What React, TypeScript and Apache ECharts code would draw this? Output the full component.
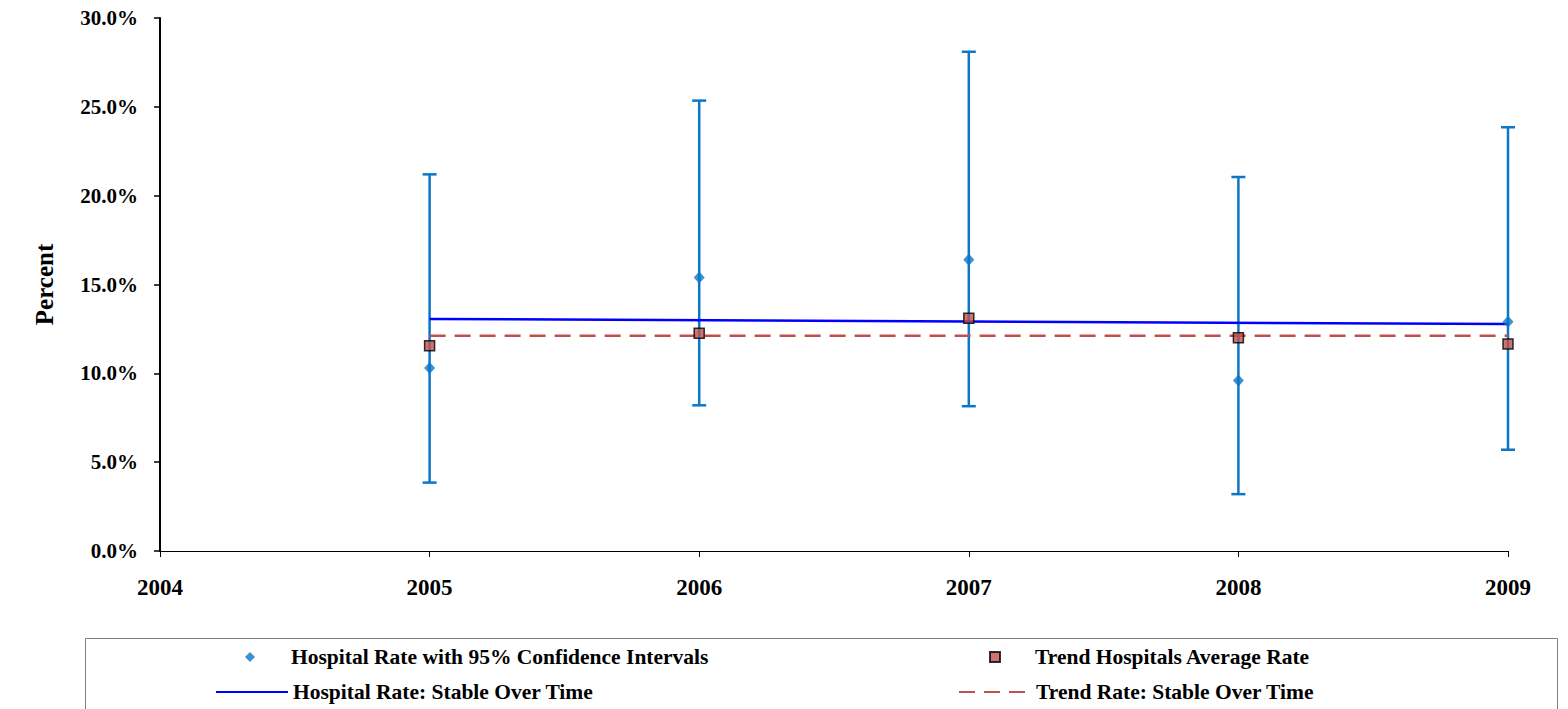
import React, { useEffect, useRef } from "react";
import * as echarts from "echarts";

const years = [2005, 2006, 2007, 2008, 2009];
const hospitalRate = [10.3, 15.4, 16.4, 9.6, 12.9];
const ciLower = [3.85, 8.2, 8.15, 3.2, 5.7];
const ciUpper = [21.2, 25.35, 28.1, 21.05, 23.85];
const trendAvgRate = [11.55, 12.25, 13.1, 12.0, 11.65];
const hospitalTrend = [13.06, 12.77]; // at 2005 and 2009
const trendRate = [12.12, 12.12]; // at 2005 and 2009
const yTicks = [0, 5, 10, 15, 20, 25, 30];
const xTicks = [2004, 2005, 2006, 2007, 2008, 2009];

const NAMES = {
  ci: "Hospital Rate with 95% Confidence Intervals",
  avg: "Trend Hospitals Average Rate",
  hosp: "Hospital Rate: Stable Over Time",
  trend: "Trend Rate: Stable Over Time",
};

const BLUE = "#0B77C6";
const RED = "#C0504D";
const FONT = "'Liberation Serif', 'Times New Roman', serif";

export default function App() {
  const ref = useRef<HTMLDivElement>(null);
  useEffect(() => {
    if (!ref.current) return;
    const chart = echarts.init(ref.current, undefined, { renderer: "svg" });
    const legendText = (padLeft: number) => ({
      fontFamily: FONT, fontWeight: "bold", fontSize: 21.5, color: "#000",
      padding: [0, 0, 0, padLeft],
    });
    const mkLegend = (name: string, left: number, top: number, w: number, h: number, pad: number, extra: any = {}) => ({
      orient: "horizontal",
      left,
      top,
      padding: 0,
      itemWidth: w,
      itemHeight: h,
      textStyle: legendText(pad),
      data: [{ name, ...extra }],
    });
    chart.setOption({
      animation: false,
      backgroundColor: "#fff",
      grid: { left: 160, right: 60, top: 18, bottom: 158, containLabel: false },
      xAxis: {
        type: "value",
        min: xTicks[0],
        max: xTicks[xTicks.length - 1],
        interval: 1,
        axisLine: { show: true, onZero: false, lineStyle: { color: "#000", width: 1 } },
        axisTick: { show: true, length: 6, lineStyle: { color: "#000" } },
        splitLine: { show: false },
        axisLabel: {
          fontFamily: FONT, fontWeight: "bold", fontSize: 23, color: "#000", margin: 25,
          formatter: (v: number) => String(v),
        },
      },
      yAxis: {
        type: "value",
        min: yTicks[0],
        max: yTicks[yTicks.length - 1],
        interval: 5,
        name: "Percent",
        nameLocation: "middle",
        nameGap: 103,
        nameRotate: 90,
        nameTextStyle: { fontFamily: FONT, fontWeight: "bold", fontSize: 25, color: "#000" },
        axisLine: { show: true, lineStyle: { color: "#000", width: 2 } },
        axisTick: { show: true, length: 6, inside: false, lineStyle: { color: "#000", width: 1.5 } },
        splitLine: { show: false },
        axisLabel: {
          fontFamily: FONT, fontWeight: "bold", fontSize: 21, color: "#000", margin: 22,
          formatter: (v: number) => v.toFixed(1) + "%",
        },
      },
      legend: [
        mkLegend(NAMES.ci, 245, 646, 10, 10, 31, { icon: "diamond" }),
        mkLegend(NAMES.hosp, 215, 681, 72, 10, 0, { itemStyle: { opacity: 0 } }),
        mkLegend(NAMES.avg, 989, 646, 10, 10, 30, { icon: "rect" }),
        mkLegend(NAMES.trend, 958, 681, 72, 10, 0, { itemStyle: { opacity: 0 } }),
      ],
      graphic: [
        {
          type: "rect",
          left: 83,
          top: 636,
          shape: { width: 1472, height: 90 },
          style: { fill: "none", stroke: "#808080", lineWidth: 1 },
          silent: true,
          z: -1,
        },
      ],
      series: [
        {
          name: "CI",
          type: "custom",
          z: 2,
          data: years.map((y, i) => [y, ciLower[i], ciUpper[i]]),
          renderItem: (params: any, api: any) => {
            const x = api.value(0);
            const lo = api.coord([x, api.value(1)]);
            const hi = api.coord([x, api.value(2)]);
            const w = 7;
            const style = { stroke: BLUE, lineWidth: 2.5, fill: "none" };
            return {
              type: "group",
              children: [
                { type: "line", shape: { x1: lo[0], y1: lo[1], x2: hi[0], y2: hi[1] }, style },
                { type: "line", shape: { x1: lo[0] - w, y1: lo[1], x2: lo[0] + w, y2: lo[1] }, style },
                { type: "line", shape: { x1: hi[0] - w, y1: hi[1], x2: hi[0] + w, y2: hi[1] }, style },
              ],
            };
          },
        },
        {
          name: NAMES.hosp,
          type: "line",
          z: 3,
          data: [[years[0], hospitalTrend[0]], [years[years.length - 1], hospitalTrend[1]]],
          symbol: "none",
          color: "#0000FF",
          lineStyle: { color: "#0000FF", width: 2.5 },
        },
        {
          name: NAMES.trend,
          type: "line",
          z: 3,
          data: [[years[0], trendRate[0]], [years[years.length - 1], trendRate[1]]],
          symbol: "none",
          color: RED,
          lineStyle: { color: RED, width: 2.5, type: [16, 9] },
        },
        {
          name: NAMES.ci,
          type: "scatter",
          z: 4,
          data: years.map((y, i) => [y, hospitalRate[i]]),
          symbol: "diamond",
          symbolSize: [11, 12],
          itemStyle: { color: BLUE },
        },
        {
          name: NAMES.avg,
          type: "scatter",
          z: 5,
          data: years.map((y, i) => [y, trendAvgRate[i]]),
          symbol: "rect",
          symbolSize: 10,
          itemStyle: { color: RED, borderColor: "#000", borderWidth: 1.5 },
        },
      ],
    });
    return () => chart.dispose();
  }, []);
  return (
    <div
      ref={ref}
      style={{ position: "fixed", left: 0, top: 0, width: 1568, height: 709 }}
    />
  );
}
